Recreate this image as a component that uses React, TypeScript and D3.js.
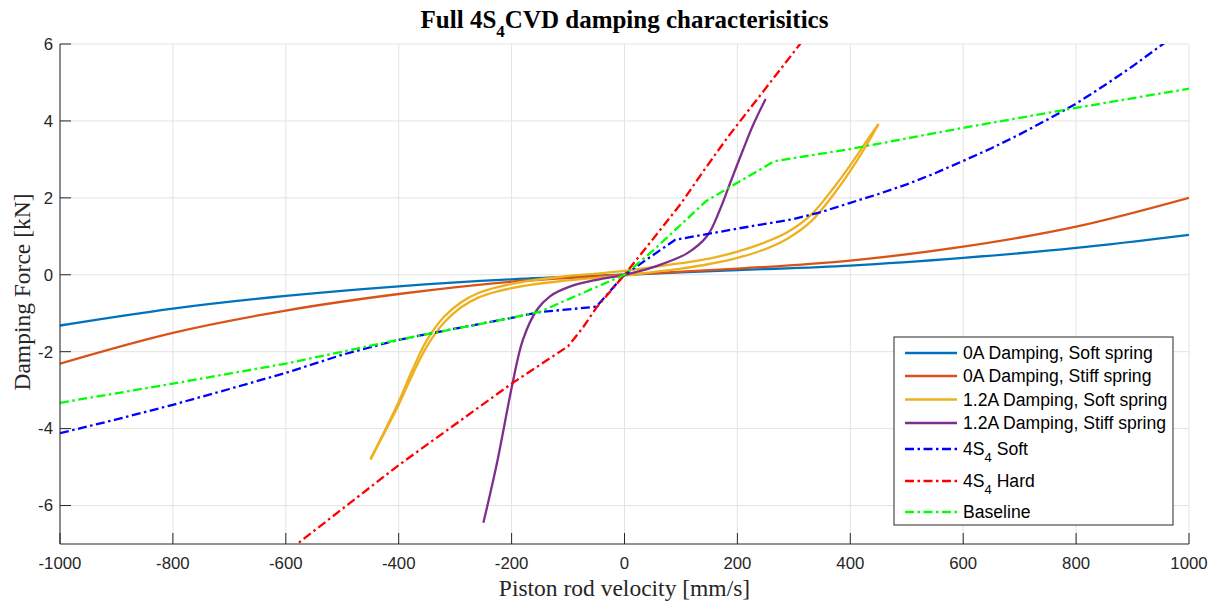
import React from "react";
import * as d3 from "d3";

type P = [number, number];

const xTicks = [-1000, -800, -600, -400, -200, 0, 200, 400, 600, 800, 1000];
const yTicks = [-6, -4, -2, 0, 2, 4, 6];

const soft0A: P[] = [[-1000,-1.32],[-800,-0.88],[-600,-0.55],[-400,-0.3],[-200,-0.12],[0,0],[200,0.12],[400,0.24],[600,0.44],[800,0.7],[1000,1.04]];
const stiff0A: P[] = [[-1000,-2.31],[-800,-1.51],[-600,-0.93],[-400,-0.5],[-200,-0.18],[0,0],[200,0.16],[400,0.37],[600,0.73],[800,1.25],[1000,2.0]];
const soft12Upper: P[] = [[-450,-4.8],[-425,-4.06],[-400,-3.3],[-375,-2.45],[-350,-1.7],[-320,-1.1],[-290,-0.72],[-260,-0.48],[-225,-0.32],[-170,-0.16],[-110,-0.05],[-50,0.03],[0,0.1],[50,0.2],[100,0.3],[150,0.42],[200,0.6],[250,0.85],[290,1.12],[330,1.55],[370,2.25],[400,2.85],[430,3.5],[450,3.92]];
const soft12Lower: P[] = [[-450,-4.8],[-425,-4.1],[-400,-3.38],[-375,-2.58],[-350,-1.86],[-320,-1.25],[-290,-0.85],[-260,-0.6],[-225,-0.43],[-170,-0.27],[-110,-0.16],[-50,-0.08],[0,-0.02],[50,0.07],[100,0.16],[150,0.28],[200,0.44],[250,0.67],[290,0.95],[330,1.38],[370,2.08],[400,2.7],[430,3.4],[450,3.92]];
const stiff12: P[] = [[-250,-6.45],[-226,-4.9],[-198,-2.8],[-180,-1.69],[-155,-0.91],[-132,-0.56],[-97,-0.31],[-49,-0.13],[0,0],[51,0.2],[110,0.55],[146,1.0],[169,1.69],[187,2.38],[210,3.25],[228,3.9],[250,4.57]];
const s4Soft: P[] = [[-1000,-4.12],[-900,-3.76],[-800,-3.38],[-700,-2.97],[-600,-2.55],[-500,-2.08],[-400,-1.69],[-300,-1.4],[-200,-1.12],[-150,-0.97],[-50,-0.83],[0,0],[90,0.91],[200,1.2],[300,1.45],[350,1.64],[400,1.87],[450,2.1],[500,2.35],[550,2.64],[600,2.96],[650,3.29],[700,3.65],[750,4.04],[800,4.45],[850,4.92],[900,5.42],[954,6.0],[1000,6.5]];
const s4Hard: P[] = [[-700,-8.3],[-580,-7.0],[-400,-4.95],[-200,-2.83],[-100,-1.86],[-75,-1.4],[-50,-0.86],[0,0],[50,0.92],[100,1.85],[140,2.7],[183,3.58],[311,6.0],[400,7.7]];
const baseline: P[] = [[-1000,-3.33],[-800,-2.83],[-600,-2.31],[-400,-1.69],[-200,-1.12],[-150,-0.96],[-75,-0.48],[0,0],[50,0.62],[145,1.92],[265,2.95],[400,3.27],[600,3.82],[800,4.34],[1000,4.84]];

const W = 1215, H = 603;
const L = 60, R = 1189, T = 44, B = 544;
const x = d3.scaleLinear().domain([-1000, 1000]).range([L, R]);
const y = d3.scaleLinear().domain([-7, 6]).range([B, T]);

const smooth = d3.line<P>().x(d => x(d[0])).y(d => y(d[1])).curve(d3.curveMonotoneX);
const spline = d3.line<P>().x(d => x(d[0])).y(d => y(d[1])).curve(d3.curveCatmullRom.alpha(0.5));
const straight = d3.line<P>().x(d => x(d[0])).y(d => y(d[1]));

const DASH = "9,3.5,2.5,3.5";
const series = [
  { name: "0A Damping, Soft spring", color: "#0072BD", data: [soft0A], path: smooth, dash: undefined as string | undefined, sub: false },
  { name: "0A Damping, Stiff spring", color: "#D95319", data: [stiff0A], path: smooth, dash: undefined, sub: false },
  { name: "1.2A Damping, Soft spring", color: "#EDB120", data: [soft12Upper, soft12Lower], path: spline, dash: undefined, sub: false },
  { name: "1.2A Damping, Stiff spring", color: "#7E2F8E", data: [stiff12], path: spline, dash: undefined, sub: false },
  { name: "Soft", color: "#0000FF", data: [s4Soft], path: straight, dash: DASH, sub: true },
  { name: "Hard", color: "#FF0000", data: [s4Hard], path: straight, dash: DASH, sub: true },
  { name: "Baseline", color: "#00FF00", data: [baseline], path: straight, dash: DASH, sub: false },
];

const legendRows = [353, 376, 399.5, 423, 449, 481, 512];

export default function App() {
  const sans = "'Liberation Sans', Arial, Helvetica, sans-serif";
  const serif = "'Liberation Serif', 'Times New Roman', serif";
  return (
    <svg width={W} height={H} style={{ position: "absolute", left: 0, top: 0, background: "#fff" }}>
      <defs>
        <clipPath id="plot">
          <rect x={L} y={T} width={R - L} height={B - T} />
        </clipPath>
      </defs>
      <rect x={0} y={0} width={W} height={H} fill="#fff" />
      {xTicks.map(t => (
        <line key={"gx" + t} x1={x(t)} x2={x(t)} y1={T} y2={B} stroke="#e3e3e3" strokeWidth={1} />
      ))}
      {yTicks.map(t => (
        <line key={"gy" + t} x1={L} x2={R} y1={y(t)} y2={y(t)} stroke="#e3e3e3" strokeWidth={1} />
      ))}
      <g clipPath="url(#plot)">
        {series.map(s =>
          s.data.map((d, i) => (
            <path key={s.name + i} d={s.path(d) || ""} fill="none" stroke={s.color}
              strokeWidth={2.3} strokeDasharray={s.dash} strokeLinejoin="round" />
          ))
        )}
      </g>
      <line x1={L} x2={L} y1={T} y2={B} stroke="#262626" strokeWidth={1} />
      <line x1={L} x2={R} y1={B} y2={B} stroke="#262626" strokeWidth={1} />
      {yTicks.map(t => (
        <g key={"ty" + t}>
          <line x1={L} x2={L + 11} y1={y(t)} y2={y(t)} stroke="#262626" strokeWidth={1} />
          <text x={L - 7} y={y(t)} dy="0.35em" textAnchor="end" fontFamily={sans} fontSize={16.8} fill="#262626">{t}</text>
        </g>
      ))}
      {xTicks.map(t => (
        <g key={"tx" + t}>
          <line x1={x(t)} x2={x(t)} y1={B} y2={B - 11} stroke="#262626" strokeWidth={1} />
          <text x={x(t)} y={569} textAnchor="middle" fontFamily={sans} fontSize={16.8} fill="#262626">{t}</text>
        </g>
      ))}
      <text x={(L + R) / 2} y={28} textAnchor="middle" fontFamily={serif} fontWeight="bold" fontSize={25} fill="#000">
        Full 4S<tspan fontSize={17} dy={9}>4</tspan><tspan dy={-9}>CVD damping characterisitics</tspan>
      </text>
      <text x={(L + R) / 2} y={596} textAnchor="middle" fontFamily={serif} fontSize={23.5} fill="#262626">Piston rod velocity [mm/s]</text>
      <text transform={`translate(30,${292}) rotate(-90)`} textAnchor="middle" fontFamily={serif} fontSize={23.5} fill="#262626">Damping Force [kN]</text>
      <rect x={894} y={337} width={279} height={188} fill="#fff" stroke="#262626" strokeWidth={1} />
      {series.map((s, i) => {
        const cy = legendRows[i];
        return (
          <g key={"lg" + i}>
            <line x1={905} x2={957} y1={cy} y2={cy} stroke={s.color} strokeWidth={2.3} strokeDasharray={s.dash} />
            <text x={963} y={cy} dy="0.35em" fontFamily={sans} fontSize={17.6} fill="#000">
              {s.sub ? (
                <>4S<tspan fontSize={13} dy={7}>4</tspan><tspan dy={-7}>{" " + s.name}</tspan></>
              ) : s.name}
            </text>
          </g>
        );
      })}
    </svg>
  );
}
